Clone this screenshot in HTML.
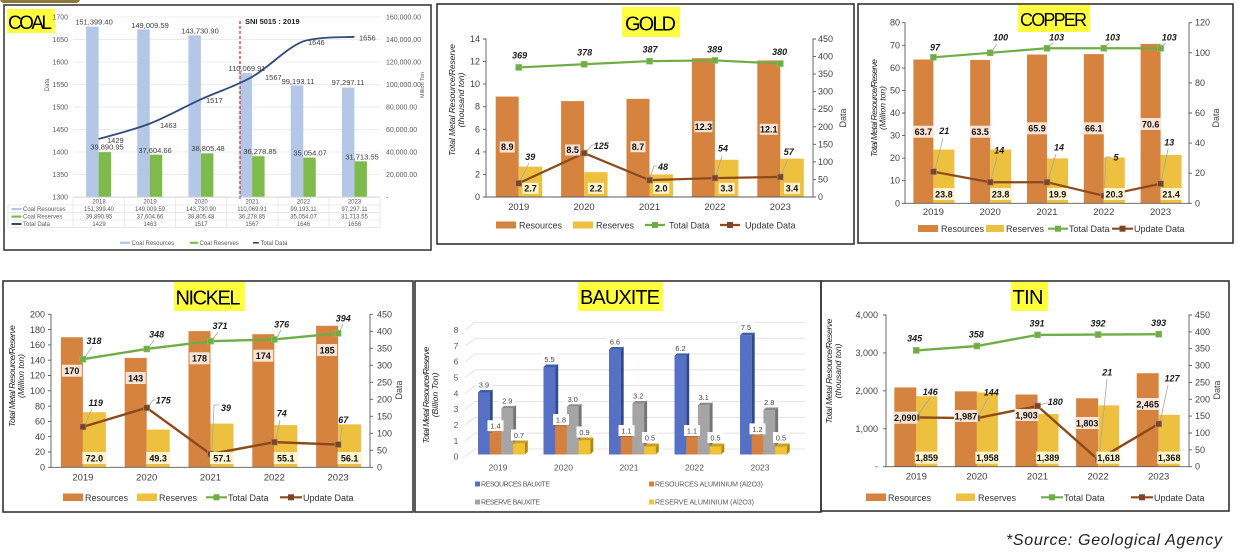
<!DOCTYPE html>
<html><head><meta charset="utf-8"><style>
html,body{margin:0;padding:0;background:#fff}
svg{display:block}
.ax{font-size:9px;fill:#404040}
.yr{font-size:9.5px;fill:#404040;text-anchor:middle}
.lb{font-size:9px;font-weight:bold;fill:#111;text-anchor:middle}
.it{font-size:9px;font-weight:bold;font-style:italic;fill:#1a1a1a;text-anchor:middle}
.tt{font-size:8.5px;font-style:italic;fill:#222;text-anchor:middle}
.lg{font-size:9px;fill:#333}
.c6{font-size:6px;fill:#595959;text-anchor:middle}
.c7{font-size:7.3px;fill:#404040;text-anchor:middle}
.ld{stroke:#a6a6a6;stroke-width:0.8;fill:none}
</style></head><body>
<svg width="1238" height="553" viewBox="0 0 1238 553" xmlns="http://www.w3.org/2000/svg" font-family="Liberation Sans, Arial, sans-serif">
<rect width="1238" height="553" fill="#fff"/>

<!-- ================= COAL ================= -->
<rect x="0" y="-6" width="80" height="9" rx="4" fill="#8b7a3a"/>
<rect x="4" y="5" width="427" height="245" fill="none" stroke="#3c3c3c" stroke-width="1.6"/>
<g stroke="#e6e6e6" stroke-width="0.7">
<line x1="73" y1="17" x2="380" y2="17"/><line x1="73" y1="39.5" x2="380" y2="39.5"/><line x1="73" y1="62" x2="380" y2="62"/><line x1="73" y1="84.5" x2="380" y2="84.5"/><line x1="73" y1="107" x2="380" y2="107"/><line x1="73" y1="129.5" x2="380" y2="129.5"/><line x1="73" y1="152" x2="380" y2="152"/><line x1="73" y1="174.5" x2="380" y2="174.5"/>
</g>
<rect x="7" y="9" width="48" height="24" fill="#ffff40"/>
<text x="8" y="29" font-size="19" textLength="44" fill="#000">COAL</text>
<g font-size="7" fill="#595959" text-anchor="end">
<text x="68" y="19.5">1700</text><text x="68" y="42">1650</text><text x="68" y="64.5">1600</text><text x="68" y="87">1550</text><text x="68" y="109.5">1500</text><text x="68" y="132">1450</text><text x="68" y="154.5">1400</text><text x="68" y="177">1350</text><text x="68" y="199.5">1300</text>
</g>
<g font-size="7" fill="#595959">
<text x="386" y="19.5">160,000.00</text><text x="386" y="42">140,000.00</text><text x="386" y="64.5">120,000.00</text><text x="386" y="87">100,000.00</text><text x="386" y="109.5">80,000.00</text><text x="386" y="132">60,000.00</text><text x="386" y="154.5">40,000.00</text><text x="386" y="177">20,000.00</text><text x="386" y="199.5">-</text>
</g>
<text transform="translate(49,85) rotate(-90)" font-size="6" fill="#595959" text-anchor="middle">Data</text>
<text transform="translate(424,85) rotate(-90)" font-size="5.5" fill="#595959" text-anchor="middle">Million Ton</text>
<g fill="#b4c7e7">
<rect x="86.1" y="26.68" width="12.5" height="170.32"/>
<rect x="137.25" y="29.36" width="12.5" height="167.64"/>
<rect x="188.4" y="35.3" width="12.5" height="161.7"/>
<rect x="239.6" y="73.17" width="12.5" height="123.83"/>
<rect x="290.75" y="85.41" width="12.5" height="111.59"/>
<rect x="341.9" y="87.54" width="12.5" height="109.46"/>
</g>
<g fill="#7fba4c">
<rect x="98.6" y="152.12" width="12.5" height="44.88"/>
<rect x="149.75" y="154.69" width="12.5" height="42.31"/>
<rect x="200.9" y="153.34" width="12.5" height="43.66"/>
<rect x="252.1" y="156.19" width="12.5" height="40.81"/>
<rect x="303.25" y="157.56" width="12.5" height="39.44"/>
<rect x="354.4" y="161.32" width="12.5" height="35.68"/>
</g>
<line x1="73" y1="197" x2="380" y2="197" stroke="#d0d0d0" stroke-width="0.8"/>
<line x1="240" y1="21" x2="240" y2="201" stroke="#e53030" stroke-width="1.3" stroke-dasharray="3,2"/>
<text x="245" y="24" font-size="7.5" font-weight="bold" fill="#222">SNI 5015 : 2019</text>
<path d="M98.6,138.95 C107.1,136.4 132.7,130.25 149.75,123.65 C166.8,117.05 183.84,107.15 200.9,99.35 C217.96,91.55 235.04,86.53 252.1,76.85 C269.16,67.17 286.2,47.98 303.25,41.3 C320.3,36.2 345.9,37.55 354.4,36.8" fill="none" stroke="#2f4a7c" stroke-width="1.8"/>
<g font-size="7.5" fill="#404040" text-anchor="middle">
<text x="94" y="24.5">151,399.40</text><text x="150" y="28">149,009.59</text><text x="200" y="33.5">143,730.90</text><text x="247" y="71">110,069.91</text><text x="298" y="84">99,193.11</text><text x="348" y="85">97,297.11</text>
<text x="107" y="149.5">39,890.95</text><text x="155" y="153">37,604.66</text><text x="208" y="151">38,805.48</text><text x="260" y="154">36,278.85</text><text x="310" y="155.5">35,054.07</text><text x="362" y="159.5">31,713.55</text>
</g>
<g font-size="7.5" fill="#404040">
<text x="107" y="143">1429</text><text x="160" y="128">1463</text><text x="206" y="103">1517</text><text x="265" y="80">1567</text><text x="308" y="45">1646</text><text x="359" y="40.5">1656</text>
</g>
<g stroke="#dcdcdc" stroke-width="0.6">
<line x1="73" y1="197.5" x2="380" y2="197.5"/>
<line x1="8" y1="205" x2="380" y2="205"/><line x1="8" y1="212.7" x2="380" y2="212.7"/><line x1="8" y1="220" x2="380" y2="220"/><line x1="8" y1="227.7" x2="380" y2="227.7"/>
<line x1="8" y1="205" x2="8" y2="227.7"/><line x1="73" y1="197.5" x2="73" y2="227.7"/><line x1="124.7" y1="197.5" x2="124.7" y2="227.7"/><line x1="175.7" y1="197.5" x2="175.7" y2="227.7"/><line x1="226.7" y1="197.5" x2="226.7" y2="227.7"/><line x1="278" y1="197.5" x2="278" y2="227.7"/><line x1="329" y1="197.5" x2="329" y2="227.7"/><line x1="380" y1="197.5" x2="380" y2="227.7"/>
</g>
<g class="c6">
<text x="99" y="203.5">2018</text><text x="150" y="203.5">2019</text><text x="201" y="203.5">2020</text><text x="252" y="203.5">2021</text><text x="303.5" y="203.5">2022</text><text x="354.5" y="203.5">2023</text>
<text x="99" y="211">151,399.40</text><text x="150" y="211">149,009.59</text><text x="201" y="211">143,730.90</text><text x="252" y="211">110,069.91</text><text x="303.5" y="211">99,193.11</text><text x="354.5" y="211">97,297.11</text>
<text x="99" y="218.5">39,890.95</text><text x="150" y="218.5">37,604.66</text><text x="201" y="218.5">38,805.48</text><text x="252" y="218.5">36,278.85</text><text x="303.5" y="218.5">35,054.07</text><text x="354.5" y="218.5">31,713.55</text>
<text x="99" y="226">1429</text><text x="150" y="226">1463</text><text x="201" y="226">1517</text><text x="252" y="226">1567</text><text x="303.5" y="226">1646</text><text x="354.5" y="226">1656</text>
</g>
<rect x="11.5" y="208" width="10" height="2.2" fill="#b4c7e7"/><rect x="11.5" y="215.5" width="10" height="2.2" fill="#7fba4c"/><rect x="11.5" y="223" width="10" height="2" fill="#2f4a7c"/>
<g font-size="6" fill="#595959">
<text x="23" y="211">Coal Resources</text><text x="23" y="218.5">Coal Reserves</text><text x="23" y="226">Total Data</text>
</g>
<rect x="120" y="241.7" width="10" height="2.2" fill="#b4c7e7"/><rect x="190" y="241.7" width="8" height="2.2" fill="#7fba4c"/><rect x="253" y="242" width="6" height="1.6" fill="#2f4a7c"/>
<g font-size="6" fill="#595959">
<text x="131.5" y="245">Coal Resources</text><text x="199.5" y="245">Coal Reserves</text><text x="260.5" y="245">Total Data</text>
</g>

<!-- ================= GOLD ================= -->
<rect x="437" y="4" width="417" height="240" fill="none" stroke="#333" stroke-width="1.6"/>
<rect x="622" y="7" width="58" height="30" fill="#ffff40"/>
<text x="625" y="30.5" font-size="20" textLength="51" fill="#000">GOLD</text>
<g fill="#d6833f">
<rect x="495.7" y="96.56" width="23" height="100.44"/><rect x="561.1" y="101.07" width="23" height="95.93"/><rect x="626.5" y="98.81" width="23" height="98.19"/><rect x="691.9" y="58.19" width="23" height="138.81"/><rect x="757.3" y="60.44" width="23" height="136.56"/>
</g>
<g fill="#eec03f">
<rect x="518.7" y="166.53" width="23.5" height="30.47"/><rect x="584.1" y="172.17" width="23.5" height="24.83"/><rect x="649.5" y="174.43" width="23.5" height="22.57"/><rect x="714.9" y="159.76" width="23.5" height="37.24"/><rect x="780.3" y="158.63" width="23.5" height="38.37"/>
</g>
<g stroke="#595959" stroke-width="0.9" fill="none">
<path d="M483,39 H486 V197 H813 V39 H816"/>
<path d="M483,61.6h3M483,84.1h3M483,106.7h3M483,129.3h3M483,151.9h3M483,174.4h3M483,197h3"/>
<path d="M813,56.6h3M813,74.1h3M813,91.7h3M813,109.2h3M813,126.8h3M813,144.3h3M813,161.9h3M813,179.4h3M813,197h3"/>
</g>
<g class="ax" text-anchor="end">
<text x="480" y="42">14</text><text x="480" y="64.6">12</text><text x="480" y="87.1">10</text><text x="480" y="109.7">8</text><text x="480" y="132.3">6</text><text x="480" y="154.9">4</text><text x="480" y="177.4">2</text><text x="480" y="200">0</text>
</g>
<g class="ax">
<text x="818" y="42">450</text><text x="818" y="59.6">400</text><text x="818" y="77.1">350</text><text x="818" y="94.7">300</text><text x="818" y="112.2">250</text><text x="818" y="129.8">200</text><text x="818" y="147.3">150</text><text x="818" y="164.9">100</text><text x="818" y="182.4">50</text><text x="818" y="200">0</text>
</g>
<text class="tt" transform="translate(455,100) rotate(-90)" textLength="112">Total Metal Resource/Reserve</text>
<text class="tt" transform="translate(464,100) rotate(-90)">(thousand ton)</text>
<text transform="translate(846,118) rotate(-90)" font-size="9" fill="#404040" text-anchor="middle">Data</text>
<g class="yr">
<text x="518.7" y="210">2019</text><text x="584.1" y="210">2020</text><text x="649.5" y="210">2021</text><text x="714.9" y="210">2022</text><text x="780.3" y="210">2023</text>
</g>
<polyline points="518.7,67.44 584.1,64.28 649.5,61.12 714.9,60.42 780.3,63.58" fill="none" stroke="#70ad47" stroke-width="2.2"/>
<g fill="#70ad47" stroke="#8cc068" stroke-width="0.6">
<rect x="515.7" y="64.44" width="6" height="6"/><rect x="581.1" y="61.28" width="6" height="6"/><rect x="646.5" y="58.12" width="6" height="6"/><rect x="711.9" y="57.42" width="6" height="6"/><rect x="777.3" y="60.58" width="6" height="6"/>
</g>
<g class="ld">
<path d="M520,181 L529,163"/><path d="M587,151 L592,145 H596"/><path d="M650,178 L654,166 H657"/><path d="M716,176 L722,156"/><path d="M781,175 L788,159"/>
</g>
<polyline points="518.7,183.31 584.1,153.11 649.5,180.15 714.9,178.04 780.3,176.99" fill="none" stroke="#8c4a1a" stroke-width="2.2"/>
<g fill="#7c4422" stroke="#a88a76" stroke-width="0.7">
<rect x="515.7" y="180.31" width="6" height="6"/><rect x="581.1" y="150.11" width="6" height="6"/><rect x="646.5" y="177.15" width="6" height="6"/><rect x="711.9" y="175.04" width="6" height="6"/><rect x="777.3" y="173.99" width="6" height="6"/>
</g>
<g fill="#f9e4d6">
<rect x="499.7" y="141.5" width="15" height="11"/><rect x="565.1" y="144.5" width="15" height="11"/><rect x="630.5" y="141.2" width="15" height="11"/><rect x="694.4" y="121.2" width="18" height="11"/><rect x="759.8" y="123.8" width="18" height="11"/>
</g>
<g fill="#fff4d0">
<rect x="522.45" y="182.8" width="16" height="11"/><rect x="587.85" y="182.8" width="16" height="11"/><rect x="653.25" y="182.8" width="16" height="11"/><rect x="718.65" y="182.8" width="16" height="11"/><rect x="784.05" y="182.8" width="16" height="11"/>
</g>
<g class="lb">
<text x="507.2" y="150.2">8.9</text><text x="572.6" y="153.2">8.5</text><text x="638" y="149.9">8.7</text><text x="703.4" y="129.9">12.3</text><text x="768.8" y="132.5">12.1</text>
<text x="530.45" y="191.5">2.7</text><text x="595.85" y="191.5">2.2</text><text x="661.25" y="191.5">2.0</text><text x="726.65" y="191.5">3.3</text><text x="792.05" y="191.5">3.4</text>
</g>
<g class="it">
<text x="519.7" y="58.5">369</text><text x="584.7" y="55.5">378</text><text x="650" y="52.5">387</text><text x="714.7" y="52.5">389</text><text x="779.7" y="55">380</text>
<text x="530.3" y="160">39</text><text x="601.3" y="149">125</text><text x="663" y="170">48</text><text x="723" y="151.5">54</text><text x="788.7" y="155">57</text>
</g>
<rect x="496" y="221.5" width="20" height="7" fill="#d6833f"/><rect x="573" y="221.5" width="20" height="7" fill="#eec03f"/>
<line x1="645" y1="225" x2="665" y2="225" stroke="#70ad47" stroke-width="2.2"/><rect x="652" y="222" width="6" height="6" fill="#70ad47"/>
<line x1="720" y1="225" x2="740" y2="225" stroke="#8c4a1a" stroke-width="2.2"/><rect x="727" y="222" width="6" height="6" fill="#7c4422"/>
<g class="lg"><text x="519" y="228.5">Resources</text><text x="596" y="228.5">Reserves</text><text x="669" y="228.5">Total Data</text><text x="745" y="228.5">Update Data</text></g>

<!-- ================= COPPER ================= -->
<rect x="858" y="4" width="375" height="239" fill="none" stroke="#333" stroke-width="1.6"/>
<rect x="1018" y="5" width="72" height="27" fill="#ffff40"/>
<text x="1020" y="26" font-size="18" textLength="67" fill="#000">COPPER</text>
<g fill="#d6833f">
<rect x="913.4" y="59.5" width="20" height="143.8"/><rect x="970.2" y="59.95" width="20" height="143.35"/><rect x="1027" y="54.53" width="20" height="148.77"/><rect x="1083.8" y="54.08" width="20" height="149.22"/><rect x="1140.6" y="43.92" width="20" height="159.38"/>
</g>
<g fill="#eec03f">
<rect x="933.4" y="149.57" width="21" height="53.73"/><rect x="990.2" y="149.57" width="21" height="53.73"/><rect x="1047" y="158.38" width="21" height="44.92"/><rect x="1103.8" y="157.47" width="21" height="45.83"/><rect x="1160.6" y="154.99" width="21" height="48.31"/>
</g>
<g stroke="#595959" stroke-width="0.9" fill="none">
<path d="M902,22.7 H905 V203.3 H1189 V22.7 H1192"/>
<path d="M902,45.3h3M902,67.9h3M902,90.4h3M902,113h3M902,135.6h3M902,158.2h3M902,180.7h3M902,203.3h3"/>
<path d="M1189,52.8h3M1189,82.9h3M1189,113h3M1189,143.1h3M1189,173.2h3M1189,203.3h3"/>
</g>
<g class="ax" text-anchor="end">
<text x="900" y="25.7">80</text><text x="900" y="48.3">70</text><text x="900" y="70.9">60</text><text x="900" y="93.4">50</text><text x="900" y="116">40</text><text x="900" y="138.6">30</text><text x="900" y="161.2">20</text><text x="900" y="183.7">10</text><text x="900" y="206.3">0</text>
</g>
<g class="ax">
<text x="1195" y="25.7">120</text><text x="1195" y="55.8">100</text><text x="1195" y="85.9">80</text><text x="1195" y="116">60</text><text x="1195" y="146.1">40</text><text x="1195" y="176.2">20</text><text x="1195" y="206.3">0</text>
</g>
<text class="tt" transform="translate(877,108) rotate(-90)" textLength="98" font-size="7.5">Total Metal Resource/Reserve</text>
<text class="tt" transform="translate(885.5,108) rotate(-90)" font-size="7.5">(Million ton)</text>
<text transform="translate(1219,118) rotate(-90)" font-size="9" fill="#404040" text-anchor="middle">Data</text>
<g class="yr">
<text x="933.4" y="215">2019</text><text x="990.2" y="215">2020</text><text x="1047" y="215">2021</text><text x="1103.8" y="215">2022</text><text x="1160.6" y="215">2023</text>
</g>
<polyline points="933.4,57.31 990.2,52.8 1047,48.28 1103.8,48.28 1160.6,48.28" fill="none" stroke="#70ad47" stroke-width="2.2"/>
<g fill="#70ad47" stroke="#8cc068" stroke-width="0.6">
<rect x="930.4" y="54.31" width="6" height="6"/><rect x="987.2" y="49.8" width="6" height="6"/><rect x="1044" y="45.28" width="6" height="6"/><rect x="1100.8" y="45.28" width="6" height="6"/><rect x="1157.6" y="45.28" width="6" height="6"/>
</g>
<g class="ld">
<path d="M935,170 L943,138"/><path d="M991,180 L997,157"/><path d="M1048,180 L1056,154"/><path d="M1104,194 L1106,157 H1111"/><path d="M1161,182 L1168,149"/>
<path d="M992,51 L997,44"/><path d="M1049,46 L1053,43"/><path d="M1106,46 L1109,43"/><path d="M1162,46 L1166,43"/>
</g>
<polyline points="933.4,171.7 990.2,182.23 1047,182.23 1103.8,195.77 1160.6,183.73" fill="none" stroke="#8c4a1a" stroke-width="2.2"/>
<g fill="#7c4422" stroke="#a88a76" stroke-width="0.7">
<rect x="930.4" y="168.7" width="6" height="6"/><rect x="987.2" y="179.23" width="6" height="6"/><rect x="1044" y="179.23" width="6" height="6"/><rect x="1100.8" y="192.77" width="6" height="6"/><rect x="1157.6" y="180.73" width="6" height="6"/>
</g>
<g fill="#f9e4d6">
<rect x="912.9" y="125.7" width="21" height="12"/><rect x="969.7" y="125.7" width="21" height="12"/><rect x="1026.5" y="122.3" width="21" height="12"/><rect x="1083.3" y="122.3" width="21" height="12"/><rect x="1140.1" y="118" width="21" height="12"/>
</g>
<g fill="#fff4d0">
<rect x="933.4" y="188" width="21" height="12"/><rect x="990.2" y="188" width="21" height="12"/><rect x="1047" y="188" width="21" height="12"/><rect x="1103.8" y="188" width="21" height="12"/><rect x="1160.6" y="188" width="21" height="12"/>
</g>
<g class="lb">
<text x="923.4" y="135">63.7</text><text x="980.2" y="135">63.5</text><text x="1037" y="131.6">65.9</text><text x="1093.8" y="131.6">66.1</text><text x="1150.6" y="127.3">70.6</text>
<text x="943.9" y="197.3">23.8</text><text x="1000.7" y="197.3">23.8</text><text x="1057.5" y="197.3">19.9</text><text x="1114.3" y="197.3">20.3</text><text x="1171.1" y="197.3">21.4</text>
</g>
<g class="it" font-size="8.5">
<text x="935" y="50.5">97</text><text x="1000.7" y="40.5">100</text><text x="1056.7" y="40.5">103</text><text x="1112.7" y="40.5">103</text><text x="1169.3" y="40.5">103</text>
<text x="944.3" y="134">21</text><text x="999.3" y="153.5">14</text><text x="1059" y="150.5">14</text><text x="1116" y="160.5">5</text><text x="1169.3" y="145.5">13</text>
</g>
<rect x="918" y="225" width="20" height="7" fill="#d6833f"/><rect x="986" y="225" width="18" height="7" fill="#eec03f"/>
<line x1="1048" y1="228.7" x2="1068" y2="228.7" stroke="#70ad47" stroke-width="2.2"/><rect x="1055" y="225.7" width="6" height="6" fill="#70ad47"/>
<line x1="1112" y1="228.7" x2="1133" y2="228.7" stroke="#8c4a1a" stroke-width="2.2"/><rect x="1119.5" y="225.7" width="6" height="6" fill="#7c4422"/>
<g class="lg" font-size="8.5"><text x="941" y="232">Resources</text><text x="1006" y="232">Reserves</text><text x="1069" y="232">Total Data</text><text x="1134" y="232">Update Data</text></g>

<!-- ================= NICKEL ================= -->
<rect x="3" y="281" width="410" height="231" fill="none" stroke="#333" stroke-width="1.6"/>
<rect x="174" y="282" width="71" height="29" fill="#ffff40"/>
<text x="175.5" y="304.3" font-size="20" textLength="65" fill="#000">NICKEL</text>
<g fill="#d6833f">
<rect x="60.9" y="337.25" width="22" height="130.05"/><rect x="124.7" y="357.9" width="22" height="109.4"/><rect x="188.5" y="331.13" width="22" height="136.17"/><rect x="252.3" y="334.19" width="22" height="133.11"/><rect x="316.1" y="325.77" width="22" height="141.53"/>
</g>
<g fill="#eec03f">
<rect x="82.9" y="412.22" width="23" height="55.08"/><rect x="146.7" y="429.59" width="23" height="37.71"/><rect x="210.5" y="423.62" width="23" height="43.68"/><rect x="274.3" y="425.15" width="23" height="42.15"/><rect x="338.1" y="424.38" width="23" height="42.92"/>
</g>
<g stroke="#595959" stroke-width="0.9" fill="none">
<path d="M48,314.3 H51 V467.3 H370 V314.3 H373"/>
<path d="M48,329.6h3M48,344.9h3M48,360.2h3M48,375.5h3M48,390.8h3M48,406.1h3M48,421.4h3M48,436.7h3M48,452h3M48,467.3h3"/>
<path d="M370,331.3h3M370,348.3h3M370,365.3h3M370,382.3h3M370,399.3h3M370,416.3h3M370,433.3h3M370,450.3h3M370,467.3h3"/>
</g>
<g class="ax" font-size="9.5" text-anchor="end">
<text x="45" y="317.5">200</text><text x="45" y="332.8">180</text><text x="45" y="348.1">160</text><text x="45" y="363.4">140</text><text x="45" y="378.7">120</text><text x="45" y="394">100</text><text x="45" y="409.3">80</text><text x="45" y="424.6">60</text><text x="45" y="439.9">40</text><text x="45" y="455.2">20</text><text x="45" y="470.5">0</text>
</g>
<g class="ax" font-size="9.5">
<text x="377" y="317.5">450</text><text x="377" y="334.5">400</text><text x="377" y="351.5">350</text><text x="377" y="368.5">300</text><text x="377" y="385.5">250</text><text x="377" y="402.5">200</text><text x="377" y="419.5">150</text><text x="377" y="436.5">100</text><text x="377" y="453.5">50</text><text x="377" y="470.5">0</text>
</g>
<text class="tt" transform="translate(15,376) rotate(-90)" textLength="102" font-size="8">Total Metal Resource/Reserve</text>
<text class="tt" transform="translate(24,376) rotate(-90)" font-size="8">(Million ton)</text>
<text transform="translate(402,390) rotate(-90)" font-size="9" fill="#404040" text-anchor="middle">Data</text>
<g class="yr" font-size="10.5">
<text x="82.9" y="480.5">2019</text><text x="146.7" y="480.5">2020</text><text x="210.5" y="480.5">2021</text><text x="274.3" y="480.5">2022</text><text x="338.1" y="480.5">2023</text>
</g>
<g class="ld">
<path d="M85,357 L92,347"/><path d="M149,347 L154,340"/><path d="M213,339 L218,332"/><path d="M277,337 L281,330"/><path d="M340,331 L343,324"/>
<path d="M85,425 L92,409"/><path d="M149,406 L153,400 H156"/><path d="M212,452 L214,405 H219"/><path d="M276,440 L280,420"/><path d="M340,443 L342,426"/>
</g>
<polyline points="82.9,359.18 146.7,348.98 210.5,341.16 274.3,339.46 338.1,333.34" fill="none" stroke="#70ad47" stroke-width="2.4"/>
<g fill="#70ad47" stroke="#8cc068" stroke-width="0.6">
<rect x="79.9" y="356.18" width="6" height="6"/><rect x="143.7" y="345.98" width="6" height="6"/><rect x="207.5" y="338.16" width="6" height="6"/><rect x="271.3" y="336.46" width="6" height="6"/><rect x="335.1" y="330.34" width="6" height="6"/>
</g>
<polyline points="82.9,426.84 146.7,407.8 210.5,454.04 274.3,442.14 338.1,444.52" fill="none" stroke="#8c4a1a" stroke-width="2.4"/>
<g fill="#7c4422" stroke="#a88a76" stroke-width="0.7">
<rect x="79.9" y="423.84" width="6" height="6"/><rect x="143.7" y="404.8" width="6" height="6"/><rect x="207.5" y="451.04" width="6" height="6"/><rect x="271.3" y="439.14" width="6" height="6"/><rect x="335.1" y="441.52" width="6" height="6"/>
</g>
<g fill="#f9e4d6">
<rect x="61.9" y="364.7" width="20" height="12"/><rect x="125.7" y="372" width="20" height="12"/><rect x="189.5" y="352.3" width="20" height="12"/><rect x="253.3" y="349.7" width="20" height="12"/><rect x="317.1" y="344" width="20" height="12"/>
</g>
<g fill="#fff4d0">
<rect x="82.4" y="452" width="24" height="12"/><rect x="146.2" y="452" width="24" height="12"/><rect x="210" y="452" width="24" height="12"/><rect x="273.8" y="452" width="24" height="12"/><rect x="337.6" y="452" width="24" height="12"/>
</g>
<g class="lb" font-size="9.5">
<text x="71.9" y="374">170</text><text x="135.7" y="381.3">143</text><text x="199.5" y="361.6">178</text><text x="263.3" y="359">174</text><text x="327.1" y="353.3">185</text>
<text x="94.4" y="461.3">72.0</text><text x="158.2" y="461.3">49.3</text><text x="222" y="461.3">57.1</text><text x="285.8" y="461.3">55.1</text><text x="349.6" y="461.3">56.1</text>
</g>
<g class="it" font-size="9.5">
<text x="94" y="344">318</text><text x="156.7" y="337.5">348</text><text x="220" y="329">371</text><text x="281.7" y="327.5">376</text><text x="343.3" y="321.5">394</text>
<text x="95.7" y="406">119</text><text x="163.3" y="403.5">175</text><text x="226" y="411">39</text><text x="281.7" y="416.5">74</text><text x="343.3" y="423">67</text>
</g>
<rect x="63" y="493.5" width="20" height="7.5" fill="#d6833f"/><rect x="137" y="493.5" width="20" height="7.5" fill="#eec03f"/>
<line x1="206" y1="497.3" x2="227" y2="497.3" stroke="#70ad47" stroke-width="2.2"/><rect x="213.5" y="494.3" width="6" height="6" fill="#70ad47"/>
<line x1="280" y1="497.3" x2="302" y2="497.3" stroke="#8c4a1a" stroke-width="2.2"/><rect x="288" y="494.3" width="6" height="6" fill="#7c4422"/>
<g class="lg" font-size="9.5"><text x="85" y="500.8">Resources</text><text x="159" y="500.8">Reserves</text><text x="228" y="500.8">Total Data</text><text x="303" y="500.8">Update Data</text></g>

<!-- ================= BAUXITE ================= -->
<rect x="415" y="281" width="406" height="231" fill="none" stroke="#333" stroke-width="1.6"/>
<rect x="578" y="282" width="85" height="29" fill="#ffff40"/>
<text x="580" y="304" font-size="20" textLength="80" fill="#000">BAUXITE</text>
<g stroke="#dedede" stroke-width="0.8" fill="none">
<path d="M465,330 L475,322.3 H805"/><path d="M465,345.9 L475,338.2 H805"/><path d="M465,361.7 L475,354 H805"/><path d="M465,377.5 L475,369.8 H805"/><path d="M465,393.4 L475,385.7 H805"/><path d="M465,409.2 L475,401.5 H805"/><path d="M465,425 L475,417.3 H805"/><path d="M465,440.9 L475,433.2 H805"/><path d="M465,456.7 L475,449 H805"/>
</g>
<g font-size="8.5" fill="#595959" text-anchor="middle">
<text x="456" y="333">8</text><text x="456" y="348.9">7</text><text x="456" y="364.7">6</text><text x="456" y="380.5">5</text><text x="456" y="396.4">4</text><text x="456" y="412.2">3</text><text x="456" y="428">2</text><text x="456" y="443.9">1</text><text x="456" y="459.7">0</text>
</g>
<text class="tt" transform="translate(429,395) rotate(-90)" textLength="97" font-size="7.5">Total Metal Resource/Reserve</text>
<text class="tt" transform="translate(438,395) rotate(-90)" font-size="7.5">(Billion Ton)</text>
<g fill="#5570c4">
<rect x="478" y="392.5" width="11.7" height="62"/><rect x="543.5" y="367" width="11.7" height="87.5"/><rect x="609" y="349.6" width="11.7" height="104.9"/><rect x="674.5" y="355.9" width="11.7" height="98.6"/><rect x="740" y="335.25" width="11.7" height="119.25"/>
</g>
<g fill="#2f4a8c">
<path d="M489.7,392.5 l3,-3 V451.5 l-3,3z"/><path d="M555.2,367 l3,-3 V451.5 l-3,3z"/><path d="M620.7,349.6 l3,-3 V451.5 l-3,3z"/><path d="M686.2,355.9 l3,-3 V451.5 l-3,3z"/><path d="M751.7,335.25 l3,-3 V451.5 l-3,3z"/>
</g>
<g fill="#3f5da8">
<path d="M478,392.5 l3,-3 h11.7 l-3,3z"/><path d="M543.5,367 l3,-3 h11.7 l-3,3z"/><path d="M609,349.6 l3,-3 h11.7 l-3,3z"/><path d="M674.5,355.9 l3,-3 h11.7 l-3,3z"/><path d="M740,335.25 l3,-3 h11.7 l-3,3z"/>
</g>
<g fill="#d5803e">
<rect x="489.7" y="432.2" width="11.7" height="22.3"/><rect x="555.2" y="425.9" width="11.7" height="28.6"/><rect x="620.7" y="437" width="11.7" height="17.5"/><rect x="686.2" y="437" width="11.7" height="17.5"/><rect x="751.7" y="435.4" width="11.7" height="19.1"/>
</g>
<g fill="#a35a22">
<path d="M501.4,432.2 l3,-3 V451.5 l-3,3z"/><path d="M566.9,425.9 l3,-3 V451.5 l-3,3z"/><path d="M632.4,437 l3,-3 V451.5 l-3,3z"/><path d="M697.9,437 l3,-3 V451.5 l-3,3z"/><path d="M763.4,435.4 l3,-3 V451.5 l-3,3z"/>
</g>
<g fill="#b8672c">
<path d="M489.7,432.2 l3,-3 h11.7 l-3,3z"/><path d="M555.2,425.9 l3,-3 h11.7 l-3,3z"/><path d="M620.7,437 l3,-3 h11.7 l-3,3z"/><path d="M686.2,437 l3,-3 h11.7 l-3,3z"/><path d="M751.7,435.4 l3,-3 h11.7 l-3,3z"/>
</g>
<g fill="#a5a5a5">
<rect x="501.4" y="408.4" width="11.7" height="46.1"/><rect x="566.9" y="406.8" width="11.7" height="47.7"/><rect x="632.4" y="403.6" width="11.7" height="50.9"/><rect x="697.9" y="405.2" width="11.7" height="49.3"/><rect x="763.4" y="410" width="11.7" height="44.5"/>
</g>
<g fill="#747474">
<path d="M513.1,408.4 l3,-3 V451.5 l-3,3z"/><path d="M578.6,406.8 l3,-3 V451.5 l-3,3z"/><path d="M644.1,403.6 l3,-3 V451.5 l-3,3z"/><path d="M709.6,405.2 l3,-3 V451.5 l-3,3z"/><path d="M775.1,410 l3,-3 V451.5 l-3,3z"/>
</g>
<g fill="#8c8c8c">
<path d="M501.4,408.4 l3,-3 h11.7 l-3,3z"/><path d="M566.9,406.8 l3,-3 h11.7 l-3,3z"/><path d="M632.4,403.6 l3,-3 h11.7 l-3,3z"/><path d="M697.9,405.2 l3,-3 h11.7 l-3,3z"/><path d="M763.4,410 l3,-3 h11.7 l-3,3z"/>
</g>
<g fill="#f2c232">
<rect x="513.1" y="443.4" width="11.7" height="11.1"/><rect x="578.6" y="440.2" width="11.7" height="14.3"/><rect x="644.1" y="446.5" width="11.7" height="8"/><rect x="709.6" y="446.5" width="11.7" height="8"/><rect x="775.1" y="446.5" width="11.7" height="8"/>
</g>
<g fill="#b28a12">
<path d="M524.8,443.4 l3,-3 V451.5 l-3,3z"/><path d="M590.3,440.2 l3,-3 V451.5 l-3,3z"/><path d="M655.8,446.5 l3,-3 V451.5 l-3,3z"/><path d="M721.3,446.5 l3,-3 V451.5 l-3,3z"/><path d="M786.8,446.5 l3,-3 V451.5 l-3,3z"/>
</g>
<g fill="#c9a020">
<path d="M513.1,443.4 l3,-3 h11.7 l-3,3z"/><path d="M578.6,440.2 l3,-3 h11.7 l-3,3z"/><path d="M644.1,446.5 l3,-3 h11.7 l-3,3z"/><path d="M709.6,446.5 l3,-3 h11.7 l-3,3z"/><path d="M775.1,446.5 l3,-3 h11.7 l-3,3z"/>
</g>
<g fill="#fff">
<rect x="476" y="379" width="16" height="11"/><rect x="541.5" y="353.5" width="16" height="11"/><rect x="607" y="336" width="16" height="11"/><rect x="672.5" y="342.4" width="16" height="11"/><rect x="738" y="321.7" width="16" height="11"/>
<rect x="487.5" y="420.2" width="16" height="11"/><rect x="553" y="414" width="16" height="11"/><rect x="618.5" y="425" width="16" height="11"/><rect x="684" y="425" width="16" height="11"/><rect x="749.5" y="423.4" width="16" height="11"/>
<rect x="499.2" y="394.9" width="16" height="11"/><rect x="564.7" y="393.3" width="16" height="11"/><rect x="630.2" y="390" width="16" height="11"/><rect x="695.7" y="391.7" width="16" height="11"/><rect x="761.2" y="396.5" width="16" height="11"/>
<rect x="511" y="429.5" width="16" height="11"/><rect x="576.5" y="426.5" width="16" height="11"/><rect x="642" y="432" width="16" height="11"/><rect x="707.5" y="432" width="16" height="11"/><rect x="773" y="432" width="16" height="11"/>
</g>
<g class="c7" font-size="8">
<text x="484" y="387.5">3.9</text><text x="549.5" y="362">5.5</text><text x="615" y="344.5">6.6</text><text x="680.5" y="351">6.2</text><text x="746" y="330.2">7.5</text>
<text x="495.5" y="428.7">1.4</text><text x="561" y="422.5">1.8</text><text x="626.5" y="433.5">1.1</text><text x="692" y="433.5">1.1</text><text x="757.5" y="432">1.2</text>
<text x="507.2" y="403.4">2.9</text><text x="572.7" y="401.8">3.0</text><text x="638.2" y="398.5">3.2</text><text x="703.7" y="400.2">3.1</text><text x="769.2" y="405">2.8</text>
<text x="519" y="438">0.7</text><text x="584.5" y="435">0.9</text><text x="650" y="440.5">0.5</text><text x="715.5" y="440.5">0.5</text><text x="781" y="440.5">0.5</text>
</g>
<g font-size="8.5" fill="#595959" text-anchor="middle">
<text x="498" y="470.5">2019</text><text x="563.5" y="470.5">2020</text><text x="629" y="470.5">2021</text><text x="694.5" y="470.5">2022</text><text x="760" y="470.5">2023</text>
</g>
<rect x="475" y="481.5" width="5" height="5" fill="#5570c4"/><rect x="649" y="481.5" width="5" height="5" fill="#d5803e"/>
<rect x="475" y="499.5" width="5" height="5" fill="#a5a5a5"/><rect x="649" y="499.5" width="5" height="5" fill="#f2c232"/>
<g font-size="7" fill="#595959">
<text x="481" y="486.5" textLength="69">RESOURCES BAUXITE</text><text x="655" y="486.5" textLength="108">RESOURCES ALUMINIUM (Al2O3)</text>
<text x="481" y="504.5" textLength="59">RESERVE BAUXITE</text><text x="655" y="504.5" textLength="99">RESERVE ALUMINIUM (Al2O3)</text>
</g>

<!-- ================= TIN ================= -->
<rect x="821" y="281" width="408" height="230" fill="none" stroke="#333" stroke-width="1.6"/>
<rect x="1011" y="282" width="37" height="29" fill="#ffff40"/>
<text x="1012.5" y="304" font-size="20" textLength="31" fill="#000">TIN</text>
<g fill="#d6833f">
<rect x="894.3" y="387.44" width="22" height="79.26"/><rect x="954.9" y="391.34" width="22" height="75.36"/><rect x="1015.5" y="394.53" width="22" height="72.17"/><rect x="1076.1" y="398.32" width="22" height="68.38"/><rect x="1136.7" y="373.21" width="22" height="93.49"/>
</g>
<g fill="#eec03f">
<rect x="916.3" y="396.2" width="21" height="70.5"/><rect x="976.9" y="392.44" width="21" height="74.26"/><rect x="1037.5" y="414.02" width="21" height="52.68"/><rect x="1098.1" y="405.34" width="21" height="61.36"/><rect x="1158.7" y="414.82" width="21" height="51.88"/>
</g>
<g stroke="#595959" stroke-width="0.9" fill="none">
<path d="M883,315 H886 V466.7 H1189 V315 H1192"/>
<path d="M883,352.9h3M883,390.8h3M883,428.8h3M883,466.7h3"/>
<path d="M1189,331.9h3M1189,348.7h3M1189,365.6h3M1189,382.4h3M1189,399.3h3M1189,416.1h3M1189,433h3M1189,449.8h3M1189,466.7h3"/>
</g>
<g class="ax" text-anchor="end">
<text x="878" y="318">4,000</text><text x="878" y="355.9">3,000</text><text x="878" y="393.8">2,000</text><text x="878" y="431.8">1,000</text><text x="878" y="469.7">-</text>
</g>
<g class="ax">
<text x="1195" y="318">450</text><text x="1195" y="334.9">400</text><text x="1195" y="351.7">350</text><text x="1195" y="368.6">300</text><text x="1195" y="385.4">250</text><text x="1195" y="402.3">200</text><text x="1195" y="419.1">150</text><text x="1195" y="436">100</text><text x="1195" y="452.8">50</text><text x="1195" y="469.7">0</text>
</g>
<text class="tt" transform="translate(832,371) rotate(-90)" textLength="105" font-size="8">Total Metal Resource/Reserve</text>
<text class="tt" transform="translate(841,371) rotate(-90)" font-size="8">(thousand ton)</text>
<text transform="translate(1220,390) rotate(-90)" font-size="9" fill="#404040" text-anchor="middle">Data</text>
<g class="yr" font-size="10">
<text x="916.3" y="479.5">2019</text><text x="976.9" y="479.5">2020</text><text x="1037.5" y="479.5">2021</text><text x="1098.1" y="479.5">2022</text><text x="1158.7" y="479.5">2023</text>
</g>
<g class="ld">
<path d="M917,416 L930,398"/><path d="M978,417 L988,398"/><path d="M1040,405 L1046,403 H1049"/><path d="M1099,458 L1107,379"/><path d="M1160,422 L1168,385"/>
</g>
<polyline points="916.3,350.4 976.9,346.02 1037.5,334.89 1098.1,334.56 1158.7,334.22" fill="none" stroke="#70ad47" stroke-width="2.4"/>
<g fill="#70ad47" stroke="#8cc068" stroke-width="0.6">
<rect x="913.3" y="347.4" width="6" height="6"/><rect x="973.9" y="343.02" width="6" height="6"/><rect x="1034.5" y="331.89" width="6" height="6"/><rect x="1095.1" y="331.56" width="6" height="6"/><rect x="1155.7" y="331.22" width="6" height="6"/>
</g>
<polyline points="916.3,417.48 976.9,418.16 1037.5,406.02 1098.1,459.62 1158.7,423.89" fill="none" stroke="#8c4a1a" stroke-width="2.4"/>
<g fill="#7c4422" stroke="#a88a76" stroke-width="0.7">
<rect x="913.3" y="414.48" width="6" height="6"/><rect x="973.9" y="415.16" width="6" height="6"/><rect x="1034.5" y="403.02" width="6" height="6"/><rect x="1095.1" y="456.62" width="6" height="6"/><rect x="1155.7" y="420.89" width="6" height="6"/>
</g>
<g fill="#f9e4d6">
<rect x="893.3" y="411.7" width="24" height="12"/><rect x="953.9" y="410" width="24" height="12"/><rect x="1014.5" y="409" width="24" height="12"/><rect x="1075.1" y="417" width="24" height="12"/><rect x="1135.7" y="398" width="24" height="12"/>
</g>
<g fill="#fff4d0">
<rect x="914.8" y="451.7" width="24" height="12"/><rect x="975.4" y="451.7" width="24" height="12"/><rect x="1036" y="451.7" width="24" height="12"/><rect x="1096.6" y="451.7" width="24" height="12"/><rect x="1157.2" y="451.7" width="24" height="12"/>
</g>
<g class="lb" font-size="9">
<text x="905.3" y="421">2,090</text><text x="965.9" y="419.3">1,987</text><text x="1026.5" y="418.3">1,903</text><text x="1087.1" y="426.3">1,803</text><text x="1147.7" y="407.3">2,465</text>
<text x="926.8" y="461">1,859</text><text x="987.4" y="461">1,958</text><text x="1048" y="461">1,389</text><text x="1108.6" y="461">1,618</text><text x="1169.2" y="461">1,368</text>
</g>
<g class="it">
<text x="914.7" y="341.5">345</text><text x="976.3" y="337.5">358</text><text x="1037" y="326.5">391</text><text x="1098" y="326.5">392</text><text x="1158.7" y="326">393</text>
<text x="930.3" y="395">146</text><text x="991.3" y="395.5">144</text><text x="1055.3" y="405">180</text><text x="1107.3" y="375.5">21</text><text x="1172" y="381.5">127</text>
</g>
<rect x="866" y="493.5" width="20" height="7.5" fill="#d6833f"/><rect x="956" y="493.5" width="19" height="7.5" fill="#eec03f"/>
<line x1="1041" y1="497.3" x2="1063" y2="497.3" stroke="#70ad47" stroke-width="2.2"/><rect x="1049" y="494.3" width="6" height="6" fill="#70ad47"/>
<line x1="1131" y1="497.3" x2="1153" y2="497.3" stroke="#8c4a1a" stroke-width="2.2"/><rect x="1139" y="494.3" width="6" height="6" fill="#7c4422"/>
<g class="lg" font-size="9"><text x="888" y="500.8">Resources</text><text x="978" y="500.8">Reserves</text><text x="1064" y="500.8">Total Data</text><text x="1154" y="500.8">Update Data</text></g>

<text x="1222" y="545" font-size="16" font-style="italic" fill="#222" text-anchor="end" textLength="216">*Source: Geological Agency</text>
</svg>
</body></html>
